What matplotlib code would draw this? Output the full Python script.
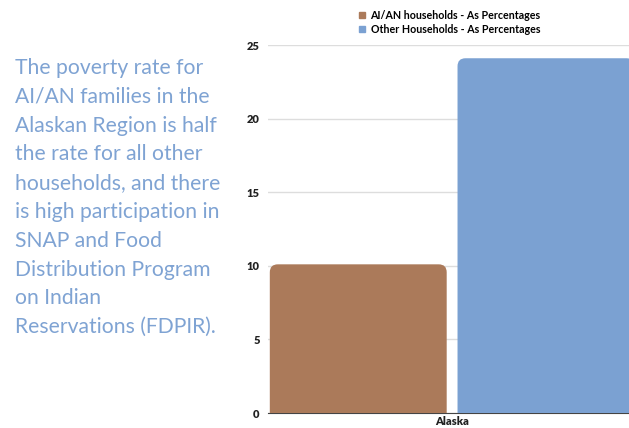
import matplotlib.pyplot as plt
from matplotlib.patches import FancyBboxPatch

plt.rcParams['font.family'] = ['Lato', 'DejaVu Sans']

categories = ["Alaska"]
series_names = ["AI/AN households - As Percentages", "Other Households - As Percentages"]
aian_values = [10.1]
other_values = [24.1]
colors = ["#ab7a5a", "#7ba1d2"]
yticks = [0, 5, 10, 15, 20, 25]

note = ("The poverty rate for\nAI/AN families in the\nAlaskan Region is half\n"
        "the rate for all other\nhouseholds, and there\nis high participation in\n"
        "SNAP and Food\nDistribution Program\non Indian\nReservations (FDPIR).")

fig = plt.figure(figsize=(6.29, 4.28), dpi=100)
ax = fig.add_axes([268 / 629, 1 - 413 / 428, 361 / 629, 368 / 428])

width = 0.49
offsets = [-0.26, 0.26]
xs = list(range(len(categories)))
bar_x_scale = 361.0        # px per data unit along x (for corner rounding)
bar_y_scale = 368.0 / 25   # px per data unit along y
radius_px = 8

for vals, off, col, name in zip([aian_values, other_values], offsets, colors, series_names):
    bars = ax.bar([x + off for x in xs], vals, width, color=col, label=name)
    for rect in bars:
        x0, w, h = rect.get_x(), rect.get_width(), rect.get_height()
        rect.set_visible(False)
        rx = radius_px / bar_x_scale
        ry = radius_px / bar_y_scale
        # extend below zero so the bottom corners get clipped away
        patch = FancyBboxPatch((x0, -2), w, h + 2,
                               boxstyle=f"round,pad=0,rounding_size={rx}",
                               mutation_aspect=ry / rx,
                               facecolor=col, edgecolor="none", zorder=3)
        ax.add_patch(patch)

ax.set_xlim(-0.51, 0.49)
ax.set_ylim(0, 25)
ax.set_yticks(yticks)
ax.set_yticklabels([str(t) for t in yticks], fontweight="heavy", fontsize=8, color="#222222")
ax.set_xticks(xs)
ax.set_xticklabels(categories, fontweight="heavy", fontsize=8, color="#222222")
ax.grid(axis="y", color="#dddddd", linewidth=1, zorder=0)
ax.set_axisbelow(True)
for s in ["top", "right", "left"]:
    ax.spines[s].set_visible(False)
ax.spines["bottom"].set_color("#444444")
ax.spines["bottom"].set_linewidth(0.8)
ax.spines["bottom"].set_zorder(1)
ax.tick_params(axis="y", length=0, pad=6)
ax.tick_params(axis="x", length=0, pad=2)

handles = [plt.Rectangle((0, 0), 1, 1, color=c) for c in colors]
fig.legend(handles, series_names, loc="upper center", bbox_to_anchor=(450 / 629, 1.0),
           frameon=False, prop={"weight": "bold", "size": 7.7},
           handlelength=0.55, handleheight=0.55, handletextpad=0.5, labelspacing=0.3,
           borderaxespad=0.5)

fig.text(15 / 629, 1 - 58 / 428, note, ha="left", va="top", fontsize=15.2,
         color="#7fa3d3", linespacing=1.55)

fig.savefig("out.png", dpi=100)
